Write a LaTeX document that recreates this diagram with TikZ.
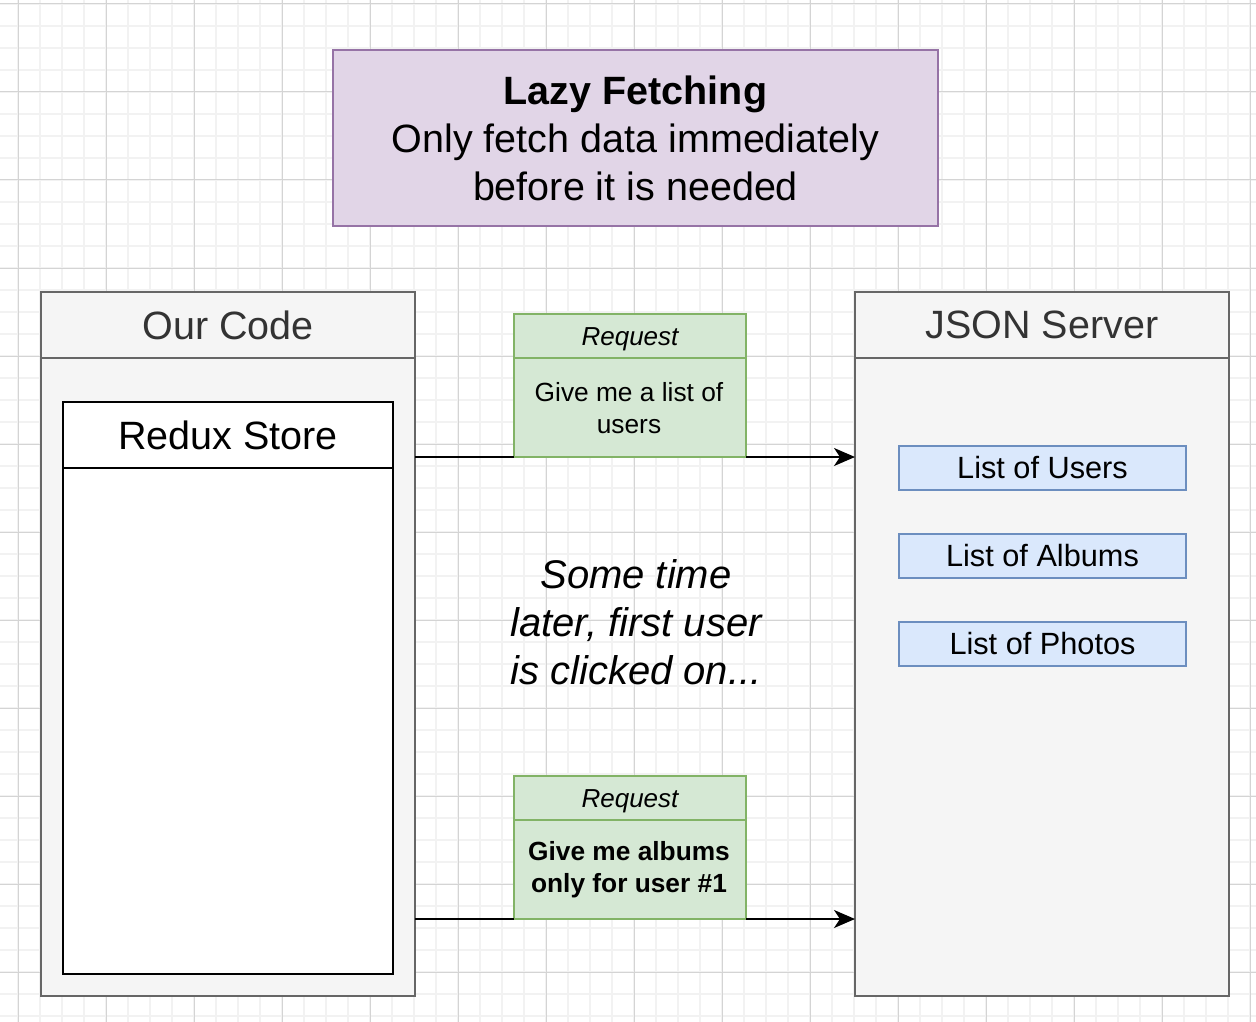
\documentclass[tikz,border=0pt]{standalone}
\usepackage{fontspec}
\setmainfont{Liberation Sans}
\usetikzlibrary{arrows.meta}
\definecolor{gridminor}{HTML}{F2F2F2}
\definecolor{gridmajor}{HTML}{D4D4D4}
\definecolor{purplefill}{HTML}{E1D5E7}
\definecolor{purpleline}{HTML}{9673A6}
\definecolor{greyfill}{HTML}{F5F5F5}
\definecolor{greyline}{HTML}{666666}
\definecolor{greytext}{HTML}{333333}
\definecolor{bluefill}{HTML}{DAE8FC}
\definecolor{blueline}{HTML}{6C8EBF}
\definecolor{greenfill}{HTML}{D5E8D4}
\definecolor{greenline}{HTML}{82B366}
\tikzset{
  boxbase/.style={rectangle, inner sep=0pt, outer sep=0pt, line width=2pt, align=center},
  titlebox/.style={boxbase, draw=purpleline, fill=purplefill, font=\fontsize{39.5}{48}\selectfont},
  lane/.style={boxbase, draw=greyline, fill=greyfill},
  lanehead/.style={boxbase, draw=greyline, fill=greyfill, text=greytext, font=\fontsize{39.5}{46}\selectfont},
  storebox/.style={boxbase, draw=black, fill=white},
  storehead/.style={boxbase, draw=black, fill=white, font=\fontsize{39.5}{46}\selectfont},
  listbox/.style={boxbase, draw=blueline, fill=bluefill, font=\fontsize{30.7}{36}\selectfont},
  reqbox/.style={boxbase, draw=greenline, fill=greenfill},
  reqhead/.style={boxbase, draw=greenline, fill=greenfill, font=\fontsize{26}{30}\itshape\selectfont},
  reqtitle/.style={inner sep=0pt, anchor=base, font=\fontsize{26}{30}\itshape\selectfont},
  reqbody/.style={inner sep=0pt, align=center, font=\fontsize{26.3}{32}\selectfont},
  arr/.style={line width=2pt, -{Stealth[length=21pt,width=18pt,inset=6pt]}},
  note/.style={inner sep=0pt, align=center, font=\fontsize{40}{48}\itshape\selectfont}
}
\begin{document}
\begin{tikzpicture}[x=1pt,y=-1pt]
\useasboundingbox (0,0) rectangle (1256,1022);
\fill[white] (0,0) rectangle (1256,1022);
% grid
\foreach \gx in {-4,18,...,1260} \draw[gridminor, line width=2pt] (\gx,0) -- (\gx,1022);
\foreach \gy in {4,26,...,1022} \draw[gridminor, line width=2pt] (0,\gy) -- (1256,\gy);
\foreach \gx in {18,106,...,1256} \draw[gridmajor, line width=1pt] (\gx,0) -- (\gx,1022);
\foreach \gy in {4,92,...,1022} \draw[gridmajor, line width=1pt] (0,\gy) -- (1256,\gy);

% title
\node[titlebox, minimum width=605pt, minimum height=176pt] (title) at (635.5,138)
  {\textbf{Lazy Fetching}\\Only fetch data immediately\\before it is needed};

% Our Code lane
\node[lane, minimum width=374pt, minimum height=704pt] (our) at (228,644) {};
\node[lanehead, minimum width=374pt, minimum height=66pt] (ourhead) at (228,325) {Our Code};

% Redux store
\node[storebox, minimum width=330pt, minimum height=572pt] (store) at (228,688) {};
\node[storehead, minimum width=330pt, minimum height=66pt] (storehead) at (228,435) {Redux Store};

% JSON server lane
\node[lane, minimum width=374pt, minimum height=704pt] (json) at (1042,644) {};
\node[lanehead, minimum width=374pt, minimum height=66pt] (jsonhead) at (1042,325) {JSON Server};

% lists
\node[listbox, minimum width=287pt, minimum height=44pt] (users) at (1042.5,468) {List of Users};
\node[listbox, minimum width=287pt, minimum height=44pt] (albums) at (1042.5,556) {List of Albums};
\node[listbox, minimum width=287pt, minimum height=44pt] (photos) at (1042.5,644) {List of Photos};

% request 1
\node[reqbox, minimum width=232pt, minimum height=143pt] (req1) at (630,385.5) {};
\node[reqhead, minimum width=232pt, minimum height=44pt] (req1head) at (630,336) {};
\node[reqtitle] (req1title) at (630,345) {Request};
\node[reqbody] (req1body) at (629,408) {Give me a list of\\users};

% request 2
\node[reqbox, minimum width=232pt, minimum height=143pt] (req2) at (630,847.5) {};
\node[reqhead, minimum width=232pt, minimum height=44pt] (req2head) at (630,798) {};
\node[reqtitle] (req2title) at (630,807) {Request};
\node[reqbody, font=\fontsize{26.3}{32}\bfseries\selectfont] (req2body) at (629,870) {Give me albums\\only for user \#1};

% arrows (pass behind the request boxes)
\draw[line width=2pt] (our.east |- req1.south) -- (req1.south west);
\draw[arr] (req1.south east) -- (json.west |- req1.south);
\draw[line width=2pt] (our.east |- req2.south) -- (req2.south west);
\draw[arr] (req2.south east) -- (json.west |- req2.south);

% note
\node[note] (later) at (636,622) {Some time\\later, first user\\is clicked on...};
\end{tikzpicture}
\end{document}
